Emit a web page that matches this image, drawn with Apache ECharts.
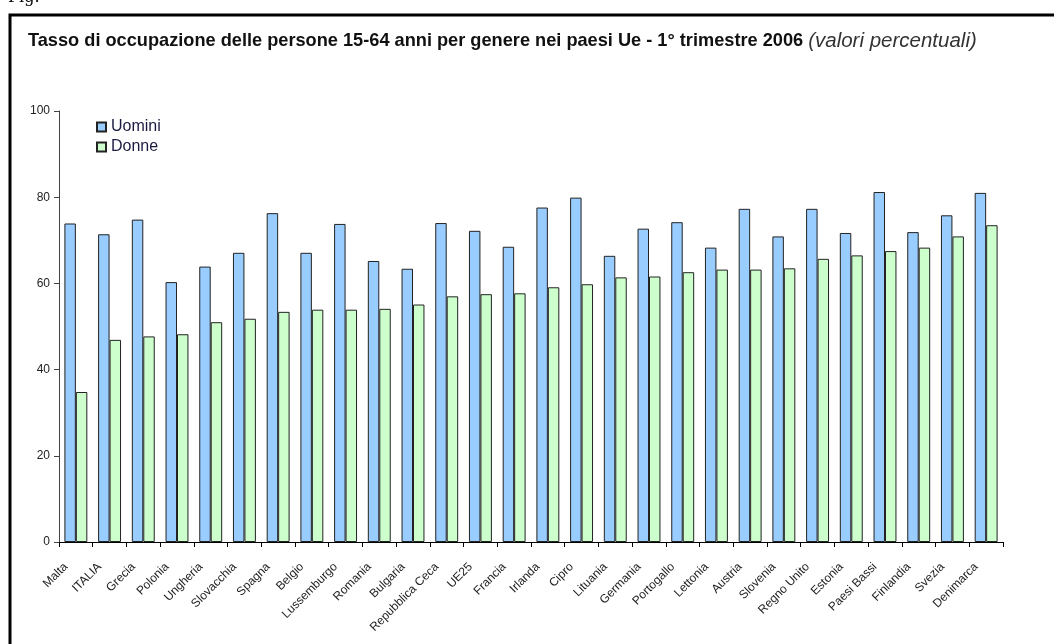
<!DOCTYPE html>
<html>
<head>
<meta charset="utf-8">
<script src="https://cdn.jsdelivr.net/npm/echarts@6/dist/echarts.min.js"></script>
<style>html,body{margin:0;padding:0;background:#fff;}#c{width:1054px;height:644px;}</style>
</head>
<body>
<div id="c"></div>
<script>
const categories = ['Malta','ITALIA','Grecia','Polonia','Ungheria','Slovacchia','Spagna','Belgio','Lussemburgo','Romania','Bulgaria','Repubblica Ceca','UE25','Francia','Irlanda','Cipro','Lituania','Germania','Portogallo','Lettonia','Austria','Slovenia','Regno Unito','Estonia','Paesi Bassi','Finlandia','Svezia','Denimarca'];
const uomini = [73.9,71.4,74.8,60.3,63.9,67.1,76.3,67.1,73.8,65.2,63.4,74.0,72.2,68.5,77.6,79.9,66.4,72.7,74.2,68.3,77.3,70.9,77.3,71.7,81.2,71.9,75.8,81.0];
const donne = [34.8,46.9,47.7,48.2,51.0,51.8,53.4,53.9,53.9,54.1,55.1,57.0,57.5,57.7,59.1,59.8,61.4,61.6,62.6,63.2,63.2,63.5,65.7,66.5,67.5,68.3,70.9,73.5];
const yTicks = [0,20,40,60,80,100];
const seriesNames = ['Uomini','Donne'];

const chart = echarts.init(document.getElementById('c'), null, {renderer:'canvas'});
chart.setOption({
  animation:false,
  backgroundColor:'#fff',
  title:{
    left:23, top:26,
    text:'{b|Tasso di occupazione delle persone 15-64 anni per genere nei paesi Ue - 1° trimestre 2006} {i|(valori percentuali)}',
    textStyle:{
      rich:{
        b:{fontFamily:'Liberation Sans, Arial',fontWeight:'bold',fontSize:18.2,color:'#111'},
        i:{fontFamily:'Liberation Sans, Arial',fontStyle:'italic',fontWeight:'normal',fontSize:20.5,color:'#333'}
      }
    }
  },
  graphic:[
    {type:'rect',shape:{x:10,y:15,width:1100,height:700},style:{fill:null,stroke:'#000',lineWidth:3},silent:true},
    {type:'text',left:8,top:-10,style:{text:'Fig.',font:'16px "DejaVu Serif", serif',fill:'#000'}}
  ],
  legend:{
    orient:'vertical', left:91, top:114,
    itemWidth:9, itemHeight:9, itemGap:4,
    icon:'rect',
    textStyle:{fontFamily:'Liberation Sans, Arial',fontSize:16,color:'#1a1a40'},
    data:seriesNames
  },
  grid:{left:59,right:51,top:111,bottom:102,containLabel:false},
  xAxis:{
    type:'category', data:categories,
    boundaryGap:true,
    axisLine:{lineStyle:{color:'#000',width:1}},
    axisTick:{show:true,alignWithLabel:false,length:5,lineStyle:{color:'#000'}},
    axisLabel:{rotate:45,interval:0,fontFamily:'Liberation Sans, Arial',fontSize:12,color:'#222',margin:13,padding:[0,14,7,0]}
  },
  yAxis:{
    type:'value', min:0, max:100, interval:20,
    splitLine:{show:false},
    axisLine:{show:true,lineStyle:{color:'#444'}},
    axisTick:{show:true,length:5,lineStyle:{color:'#444'}},
    axisLabel:{fontFamily:'Liberation Sans, Arial',fontSize:12,color:'#222',margin:9,
      formatter:v=>yTicks.includes(v)?String(v):''}
  },
  series:[
    {name:seriesNames[0],type:'bar',data:uomini,barGap:'0%',barCategoryGap:'32%',
      itemStyle:{color:'#99ccff',borderColor:'#222',borderWidth:1}},
    {name:seriesNames[1],type:'bar',data:donne,barGap:'0%',barCategoryGap:'32%',
      itemStyle:{color:'#ccffcc',borderColor:'#222',borderWidth:1}}
  ]
});
</script>
</body>
</html>
